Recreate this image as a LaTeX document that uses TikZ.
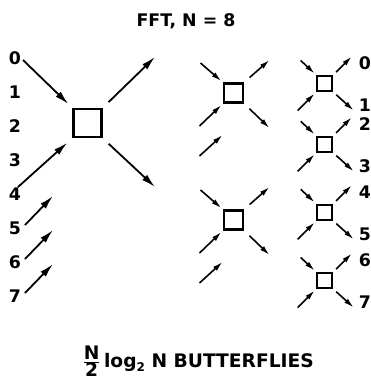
\documentclass[tikz,border=0pt]{standalone}
\usepackage{fontspec}
\setmainfont{DejaVu Sans}
\usetikzlibrary{arrows.meta}

\begin{document}
\begin{tikzpicture}[
  x=0.75pt,y=-0.75pt,
  bfly/.style={
    draw,
    line width=1.7pt,
    inner sep=0pt,
    minimum size=#1
  },
  arr/.style={-{Latex[length=10.5pt,width=5.4pt]},line width=1.35pt},
  sarr/.style={-{Latex[length=7.5pt,width=4pt]},line width=1.2pt},
  lbl/.style={font=\fontsize{13}{14}\selectfont\bfseries,inner sep=0pt}
]
  \useasboundingbox (0,0) rectangle (371,380);
  \node[lbl] (title) at (186,21) {FFT, N = 8};

  % first stage: one big butterfly
  \node[bfly=21pt,line width=1.9pt] (big) at (87.5,123) {};
  \foreach \i in {0,...,7}
    \node[lbl] (in\i) at (15,{58+34*\i}) {\i};
  \coordinate (big-ul) at (23,60);
  \coordinate (big-ll) at (18,187);
  \coordinate (big-ur) at (155,57);
  \coordinate (big-lr) at (155,187);
  \draw[arr,shorten >=4pt] (big-ul) -- (big.north west);
  \draw[arr,shorten >=5pt] (big-ll) -- (big.south west);
  \draw[arr,shorten <=6pt] (big.north east) -- (big-ur);
  \draw[arr,shorten <=6pt] (big.south east) -- (big-lr);
  \foreach \i in {5,6,7}{
    \coordinate (free\i-a) at (25,{58+34*\i-3});
    \coordinate (free\i-b) at (53,{58+34*\i-32});
    \draw[arr] (free\i-a) -- (free\i-b);
  }

  % second stage
  \foreach \n/\y in {mid1/93,mid2/220}{
    \node[bfly=14.25pt] (\n) at (233.5,\y) {};
    \coordinate (\n-ul) at (200.5,{\y-30});
    \coordinate (\n-ll) at (199.5,{\y+33});
    \coordinate (\n-ur) at (269.5,{\y-33});
    \coordinate (\n-lr) at (269.5,{\y+35});
    \coordinate (\n-la) at (199.5,{\y+63});
    \coordinate (\n-lb) at (222.5,{\y+42});
    \draw[sarr,shorten >=1.5pt] (\n-ul) -- (\n.north west);
    \draw[sarr,shorten >=1.5pt] (\n-ll) -- (\n.south west);
    \draw[sarr,shorten <=5.5pt] (\n.north east) -- (\n-ur);
    \draw[sarr,shorten <=5.5pt] (\n.south east) -- (\n-lr);
    \draw[sarr] (\n-la) -- (\n-lb);
  }

  % third stage
  \foreach \n/\y/\a/\b in {r0/83.5/0/1,r1/144.3/2/3,r2/212.3/4/5,r3/280.5/6/7}{
    \node[bfly=11.25pt,line width=1.6pt] (\n) at (324.7,\y) {};
    \node[lbl] (out\a) at (365,{\y-20}) {\a};
    \node[lbl] (out\b) at (365,{\y+22}) {\b};
    \coordinate (\n-ul) at (300.7,{\y-23});
    \coordinate (\n-ll) at (297.7,{\y+27});
    \coordinate (\n-ur) at (351.7,{\y-27});
    \coordinate (\n-lr) at (353.7,{\y+27});
    \draw[sarr,shorten >=1.5pt] (\n-ul) -- (\n.north west);
    \draw[sarr,shorten >=1.5pt] (\n-ll) -- (\n.south west);
    \draw[sarr,shorten <=3pt] (\n.north east) -- (\n-ur);
    \draw[sarr,shorten <=3pt] (\n.south east) -- (\n-lr);
  }

  \node[font=\fontsize{14}{15}\selectfont\bfseries,anchor=base] (count) at (198,367)
    {$\frac{\mbox{N}}{\mbox{2}}$\,log\raisebox{-0.45ex}{\small 2} N BUTTERFLIES};
\end{tikzpicture}
\end{document}
